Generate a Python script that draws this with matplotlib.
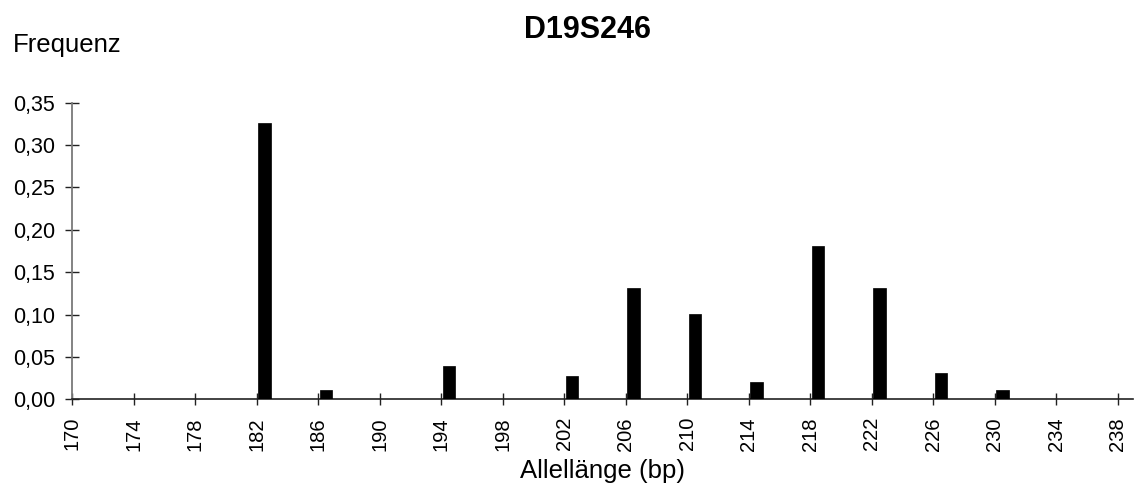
import matplotlib
matplotlib.use("Agg")
import matplotlib.pyplot as plt
from matplotlib.ticker import FuncFormatter

plt.rcParams['font.family'] = ['Liberation Sans', 'DejaVu Sans']

alleles = [182, 186, 194, 202, 206, 210, 214, 218, 222, 226, 230]
freqs = [0.326, 0.011, 0.039, 0.027, 0.131, 0.101, 0.021, 0.181, 0.131, 0.031, 0.011]
x_ticks = list(range(170, 239, 4))
y_ticks = [0.0, 0.05, 0.10, 0.15, 0.20, 0.25, 0.30, 0.35]
title = "D19S246"
ylabel = "Frequenz"
xlabel = "Allellänge (bp)"

fig = plt.figure(figsize=(11.36, 4.90), dpi=100)
ax = fig.add_axes([72/1136, 1 - 399.3/490, (1133 - 72)/1136, (399.3 - 102.7)/490])

ax.bar([a + 0.1 for a in alleles], freqs, width=0.82, align='edge', color='black', edgecolor='black', linewidth=0.5, zorder=3)

ax.set_xlim(170, 239)
ax.set_ylim(0, 0.35)
ax.set_xticks(x_ticks)
ax.set_xticklabels([str(t) for t in x_ticks], rotation=90, fontsize=14.5)
ax.set_yticks(y_ticks)
ax.yaxis.set_major_formatter(FuncFormatter(lambda v, p: f"{v:.2f}".replace('.', ',')))
ax.tick_params(axis='y', labelsize=15.5, direction='inout', length=10, width=1.0, pad=7, color='#222222')
ax.tick_params(axis='x', direction='inout', length=8.6, width=1.0, pad=8.5, color='#222222')

for s in ['top', 'right']:
    ax.spines[s].set_visible(False)
ax.spines['left'].set_color('#7a7a7a')
ax.spines['left'].set_linewidth(1.3)
ax.spines['bottom'].set_color('#222222')
ax.spines['bottom'].set_linewidth(1.2)

fig.text(588/1136, 1 - 37.7/490, title, ha='center', va='baseline', fontsize=22, fontweight='bold')
fig.text(12.7/1136, 1 - 52.3/490, ylabel, ha='left', va='baseline', fontsize=18.5)
fig.text(602.5/1136, 1 - 478.3/490, xlabel, ha='center', va='baseline', fontsize=18.5)

fig.savefig("out.png", dpi=100)
